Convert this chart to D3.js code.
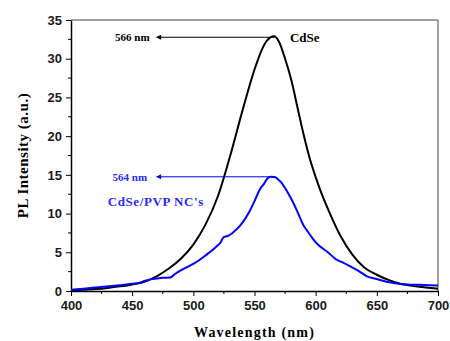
<!DOCTYPE html>
<html>
<head>
<meta charset="utf-8">
<script src="https://cdn.jsdelivr.net/npm/d3@7"></script>
<style>
  body { margin: 0; background: #fff; }
  .tick text { font-family: "Liberation Sans", Arial, sans-serif; font-weight: bold; font-size: 13px; fill: #1a1a1a; }
  .title { font-family: "Liberation Serif", "Times New Roman", serif; font-weight: bold; }
</style>
</head>
<body>
<div id="chart"></div>
<script>
// PL spectra: CdSe vs CdSe/PVP NC's
const wavelengthCdSe = [400, 410, 420, 430, 440, 450, 460, 470, 480, 490, 500, 510, 520, 530, 540, 550, 555, 560, 566, 570, 575, 580, 585, 590, 595, 600, 605, 610, 620, 630, 640, 650, 660, 670, 680, 690, 700];
const intensityCdSe = [0.05, 0.15, 0.25, 0.4, 0.6, 0.85, 1.2, 1.9, 2.9, 4.2, 6.0, 8.6, 12.2, 17.4, 23.2, 28.6, 30.8, 32.3, 32.9, 32.2, 30.0, 27.3, 23.8, 20.3, 17.2, 14.7, 12.5, 10.6, 7.2, 4.7, 3.0, 2.1, 1.4, 0.9, 0.65, 0.45, 0.3];

const wavelengthPVP = [400, 410, 420, 430, 440, 450, 456, 460, 465, 470, 475, 481, 485, 489, 495, 500, 505, 510, 515, 520, 522, 525, 528, 532, 535, 540, 546, 550, 554, 558, 561, 564, 567, 570, 572, 575, 579, 582, 586, 590, 593, 597, 600, 604, 610, 617, 622, 628, 635, 642, 650, 658, 665, 675, 685, 692, 700];
const intensityPVP = [0.15, 0.3, 0.45, 0.6, 0.75, 0.95, 1.05, 1.3, 1.5, 1.6, 1.7, 1.75, 2.2, 2.6, 3.1, 3.5, 4.0, 4.6, 5.2, 5.9, 6.2, 7.0, 7.1, 7.5, 7.9, 8.8, 10.3, 11.6, 13.0, 13.9, 14.6, 14.75, 14.7, 14.3, 14.0, 13.3, 12.2, 11.3, 9.9, 8.5, 7.8, 6.9, 6.3, 5.7, 5.0, 4.05, 3.7, 3.2, 2.6, 1.9, 1.55, 1.2, 1.0, 0.85, 0.8, 0.75, 0.7];

const xTicks = [400, 450, 500, 550, 600, 650, 700];
const yTicks = [0, 5, 10, 15, 20, 25, 30, 35];
const peakCdSe = { wl: 566, val: 32.9, label: '566 nm', name: 'CdSe' };
const peakPVP = { wl: 564, val: 14.75, label: '564 nm', name: "CdSe/PVP NC's" };

const W = 450, H = 341;
const margin = { top: 20, right: 12, bottom: 50, left: 71 };
const width = W - margin.left - margin.right;
const height = H - margin.top - margin.bottom;

const svg = d3.select('#chart').append('svg')
    .attr('width', W).attr('height', H);

const g = svg.append('g')
    .attr('transform', `translate(${margin.left},${margin.top})`);

const x = d3.scaleLinear().domain([400, 700]).range([0, width]);
const y = d3.scaleLinear().domain([0, 35]).range([height, 0]);

// frame: top and right in gray
g.append('line').attr('x1', 0).attr('x2', width).attr('y1', 0).attr('y2', 0)
    .attr('stroke', '#808080').attr('stroke-width', 1.5);
g.append('line').attr('x1', width).attr('x2', width).attr('y1', 0).attr('y2', height)
    .attr('stroke', '#808080').attr('stroke-width', 1.5);

// minor ticks
const xMinor = d3.range(425, 700, 50);
const yMinor = d3.range(2.5, 35, 5);
g.selectAll('.xminor').data(xMinor).enter().append('line')
    .attr('x1', d => x(d)).attr('x2', d => x(d))
    .attr('y1', height).attr('y2', height + 3)
    .attr('stroke', '#000');
g.selectAll('.yminor').data(yMinor).enter().append('line')
    .attr('x1', -3).attr('x2', 0)
    .attr('y1', d => y(d)).attr('y2', d => y(d))
    .attr('stroke', '#000');

const xAxis = g.append('g')
    .attr('transform', `translate(0,${height})`)
    .call(d3.axisBottom(x).tickValues(xTicks).tickSize(5).tickSizeOuter(0).tickPadding(5));
const yAxis = g.append('g')
    .call(d3.axisLeft(y).tickValues(yTicks).tickSize(5).tickSizeOuter(0).tickPadding(4));
[xAxis, yAxis].forEach(a => {
    a.select('.domain').attr('stroke', '#000').attr('stroke-width', 1.5);
    a.selectAll('.tick line').attr('stroke', '#000');
});

// curves
const line = d3.line()
    .x(d => x(d[0]))
    .y(d => y(d[1]))
    .curve(d3.curveMonotoneX);

g.append('path')
    .datum(wavelengthCdSe.map((w, i) => [w, intensityCdSe[i]]))
    .attr('d', line).attr('fill', 'none')
    .attr('stroke', '#000').attr('stroke-width', 2);

g.append('path')
    .datum(wavelengthPVP.map((w, i) => [w, intensityPVP[i]]))
    .attr('d', line).attr('fill', 'none')
    .attr('stroke', '#0000ff').attr('stroke-width', 2);

// arrow markers
const defs = svg.append('defs');
[['arrowBlack', '#000'], ['arrowBlue', '#0000ff']].forEach(([id, c]) => {
    defs.append('marker').attr('id', id)
        .attr('viewBox', '0 0 10 10').attr('refX', 9).attr('refY', 5)
        .attr('markerWidth', 7).attr('markerHeight', 5).attr('orient', 'auto')
        .append('path').attr('d', 'M0,0 L10,5 L0,10 Z').attr('fill', c);
});

// CdSe annotation
g.append('line')
    .attr('x1', x(peakCdSe.wl)).attr('y1', y(peakCdSe.val) + 1)
    .attr('x2', x(470)).attr('y2', y(peakCdSe.val) + 1)
    .attr('stroke', '#000').attr('stroke-width', 1)
    .attr('marker-end', 'url(#arrowBlack)');
g.append('text').attr('class', 'title')
    .attr('x', x(436)).attr('y', y(peakCdSe.val) + 5)
    .style('font-size', '11px').attr('fill', '#000')
    .text(peakCdSe.label);
g.append('text').attr('class', 'title')
    .attr('x', x(579)).attr('y', y(peakCdSe.val) + 6)
    .style('font-size', '13px').attr('fill', '#000')
    .text(peakCdSe.name);

// CdSe/PVP annotation
g.append('line')
    .attr('x1', x(peakPVP.wl) + 4).attr('y1', y(peakPVP.val))
    .attr('x2', x(470)).attr('y2', y(peakPVP.val))
    .attr('stroke', '#0000ff').attr('stroke-width', 1)
    .attr('marker-end', 'url(#arrowBlue)');
g.append('text').attr('class', 'title')
    .attr('x', x(434)).attr('y', y(peakPVP.val) + 4)
    .style('font-size', '11px').attr('fill', '#2a2aff')
    .text(peakPVP.label);
g.append('text').attr('class', 'title')
    .attr('x', x(430)).attr('y', y(peakPVP.val) + 29)
    .style('font-size', '13px').style('letter-spacing', '0.6px').attr('fill', '#2a2aff')
    .text(peakPVP.name);

// axis titles
svg.append('text').attr('class', 'title')
    .attr('transform', `translate(28,${margin.top + height / 2}) rotate(-90)`)
    .attr('text-anchor', 'middle')
    .style('font-size', '15px').style('letter-spacing', '0.5px')
    .text('PL Intensity (a.u.)');
svg.append('text').attr('class', 'title')
    .attr('x', margin.left + width / 2).attr('y', 337)
    .attr('text-anchor', 'middle')
    .style('font-size', '14px').style('letter-spacing', '1.2px')
    .text('Wavelength (nm)');
</script>
</body>
</html>
